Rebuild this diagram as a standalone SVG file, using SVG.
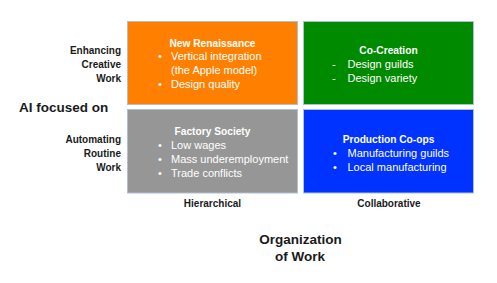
<svg xmlns="http://www.w3.org/2000/svg" width="497" height="283" viewBox="0 0 497 283">
<style>
.box{stroke:#aebfd6;stroke-width:1}
text{font-family:"Liberation Sans",Arial,sans-serif}
.ax{font-size:10px;font-weight:bold;fill:#1a1a1a}
.big{font-size:13.5px;font-weight:bold;fill:#1a1a1a}
.h{font-size:10.2px;font-weight:bold;fill:#fff;text-anchor:middle}
.t{font-size:11px;fill:#fff}
.lr{text-anchor:end}
.c{text-anchor:middle}
</style>
<rect width="497" height="283" fill="#fff"/>
<g id="new-renaissance">
<rect class="box" x="127.5" y="21.5" width="170" height="83" fill="#ff7f00"/>
<text class="h" x="212.5" y="47">New Renaissance</text>
<text class="t" x="158" y="60">•</text><text class="t" x="171" y="60">Vertical integration</text>
<text class="t" x="171" y="74">(the Apple model)</text>
<text class="t" x="158" y="88">•</text><text class="t" x="171" y="88">Design quality</text>
</g>
<g id="co-creation">
<rect class="box" x="303.5" y="21.5" width="170" height="83" fill="#008a00"/>
<text class="h" x="388.5" y="53.5">Co-Creation</text>
<text class="t" x="332" y="67.5">-</text><text class="t" x="347.5" y="67.5">Design guilds</text>
<text class="t" x="332" y="82">-</text><text class="t" x="347.5" y="82">Design variety</text>
</g>
<g id="factory-society">
<rect class="box" x="127.5" y="109.5" width="170" height="83.5" fill="#969696"/>
<text class="h" x="212.5" y="135">Factory Society</text>
<text class="t" x="158" y="149">•</text><text class="t" x="171" y="149">Low wages</text>
<text class="t" x="158" y="163">•</text><text class="t" x="171" y="163">Mass underemployment</text>
<text class="t" x="158" y="177">•</text><text class="t" x="171" y="177">Trade conflicts</text>
</g>
<g id="production-coops">
<rect class="box" x="303.5" y="109.5" width="170" height="83.5" fill="#0033ff"/>
<text class="h" x="388.5" y="142.5">Production Co-ops</text>
<text class="t" x="333" y="157">•</text><text class="t" x="347.5" y="157">Manufacturing guilds</text>
<text class="t" x="333" y="171">•</text><text class="t" x="347.5" y="171">Local manufacturing</text>
</g>
<g id="labels">
<text class="ax lr" x="121" y="54">Enhancing</text>
<text class="ax lr" x="121" y="68">Creative</text>
<text class="ax lr" x="121" y="82">Work</text>
<text class="big" x="19" y="112">AI focused on</text>
<text class="ax lr" x="121" y="143">Automating</text>
<text class="ax lr" x="121" y="157">Routine</text>
<text class="ax lr" x="121" y="171">Work</text>
<text class="ax c" x="212.5" y="207">Hierarchical</text>
<text class="ax c" x="389" y="207">Collaborative</text>
<text class="big c" x="300.5" y="243.5">Organization</text>
<text class="big c" x="300" y="261">of Work</text>
</g>
<g id="connectors"/>
</svg>
